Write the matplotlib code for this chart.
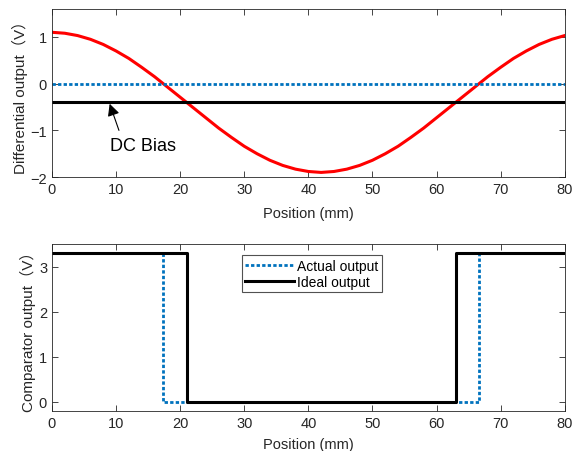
import numpy as np
import matplotlib
matplotlib.use("Agg")
import matplotlib.pyplot as plt

plt.rcParams['font.family'] = ['Liberation Sans', 'Noto Sans CJK SC', 'DejaVu Sans']

# differential output (mm, V)
pos = [0, 2, 4, 6, 8, 10, 12, 14, 16, 18, 20, 22, 24, 26, 28, 30, 32, 34, 36, 38, 40,
       42, 44, 46, 48, 50, 52, 54, 56, 58, 60, 62, 64, 66, 68, 70, 72, 74, 76, 78, 80]
diff_out = [1.10, 1.08, 1.03, 0.95, 0.84, 0.70, 0.54, 0.35, 0.15, -0.07, -0.29,
            -0.51, -0.73, -0.95, -1.15, -1.34, -1.50, -1.64, -1.75, -1.83, -1.88,
            -1.90, -1.88, -1.83, -1.75, -1.64, -1.50, -1.34, -1.15, -0.95, -0.73,
            -0.51, -0.29, -0.07, 0.15, 0.35, 0.54, 0.70, 0.84, 0.95, 1.03]
zero_level = 0.0
dc_bias = -0.4

# comparator outputs (step points)
actual_x = [0, 17.4, 17.4, 66.6, 66.6, 80]
actual_y = [3.3, 3.3, 0, 0, 3.3, 3.3]
ideal_x = [0, 21, 21, 63, 63, 80]
ideal_y = [3.3, 3.3, 0, 0, 3.3, 3.3]

blue = (0, 0.447, 0.741)
grey = '#262626'

fig = plt.figure(figsize=(5.82, 4.52), dpi=100)
ax1 = fig.add_axes([0.0893, 0.606, 0.881, 0.372])
ax2 = fig.add_axes([0.0893, 0.0885, 0.881, 0.369])

ax1.plot(pos, diff_out, color='red', lw=2.2)
ax1.axhline(zero_level, color=blue, lw=2, ls=(0, (1.2, 0.8)))
ax1.axhline(dc_bias, color='black', lw=2.2)
# arrow pointing at the bias line, label below it
ax1.annotate('', xy=(9.0, dc_bias - 0.03), xytext=(10.45, -1.0),
             arrowprops=dict(arrowstyle='-|>', color='black', lw=0.8,
                             mutation_scale=18, shrinkA=0, shrinkB=0))
ax1.text(14.2, -1.32, 'DC Bias', ha='center', va='center', fontsize=13)
ax1.set_xlim(0, 80)
ax1.set_ylim(-2, 1.6)
ax1.set_yticks([-2, -1, 0, 1])
ax1.set_xlabel('Position (mm)', fontsize=10.5, color=grey, labelpad=7)
ax1.set_ylabel('Differential output（V）', fontsize=11, color=grey, labelpad=2)

ax2.plot(actual_x, actual_y, color=blue, lw=2, ls=(0, (1.2, 0.8)), label='Actual output')
ax2.plot(ideal_x, ideal_y, color='black', lw=2.2, label='Ideal output')
ax2.set_xlim(0, 80)
ax2.set_ylim(-0.2, 3.5)
ax2.set_yticks([0, 1, 2, 3])
ax2.set_xlabel('Position (mm)', fontsize=10.5, color=grey, labelpad=5)
ax2.set_ylabel('Comparator output（V）', fontsize=11, color=grey, labelpad=2)
leg = ax2.legend(loc='upper left', bbox_to_anchor=(0.37, 0.935), fontsize=10,
                 frameon=True, fancybox=False, handlelength=3.5,
                 borderaxespad=0, borderpad=0.25, labelspacing=0.15, handletextpad=0.25)
leg.get_frame().set_edgecolor(grey)
leg.get_frame().set_linewidth(0.8)

for ax in (ax1, ax2):
    ax.set_xticks(range(0, 81, 10))
    ax.tick_params(direction='in', top=True, right=True, labelsize=10.5,
                   colors=grey, length=4, width=0.6)
    for s in ax.spines.values():
        s.set_color(grey)
        s.set_linewidth(0.6)

fig.savefig('out.png', dpi=100)
